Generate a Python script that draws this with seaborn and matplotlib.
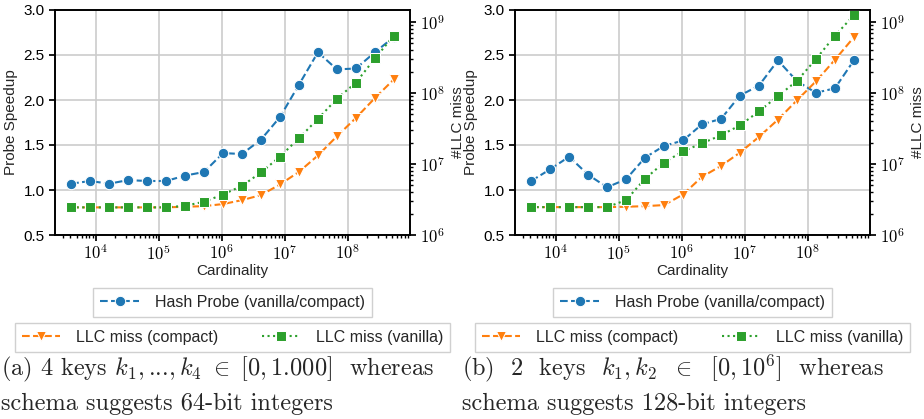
import matplotlib
matplotlib.use("Agg")
import matplotlib.pyplot as plt
import seaborn as sns
import pandas as pd
from matplotlib.ticker import FuncFormatter, LogLocator, NullFormatter

# ---------------- data ----------------
cardinality = [4096, 8192, 16384, 32768, 65536, 131072, 262144, 524288,
               1048576, 2097152, 4194304, 8388608, 16777216, 33554432,
               67108864, 134217728, 268435456, 536870912]

speedup_a = [1.07, 1.10, 1.07, 1.11, 1.10, 1.10, 1.16, 1.20, 1.41, 1.40,
             1.56, 1.81, 2.17, 2.53, 2.34, 2.35, 2.53, 2.70]
llc_compact_a = [2.45e6, 2.45e6, 2.45e6, 2.45e6, 2.45e6, 2.45e6, 2.5e6, 2.55e6,
                 2.73e6, 3.1e6, 3.65e6, 5.15e6, 7.76e6, 1.32e7, 2.46e7, 4.46e7,
                 8.5e7, 1.56e8]
llc_vanilla_a = [2.45e6, 2.45e6, 2.45e6, 2.45e6, 2.45e6, 2.45e6, 2.58e6, 2.94e6,
                 3.72e6, 4.93e6, 7.6e6, 1.27e7, 2.31e7, 4.32e7, 8.33e7, 1.40e8,
                 3.07e8, 6.46e8]

speedup_b = [1.10, 1.23, 1.37, 1.17, 1.03, 1.12, 1.36, 1.49, 1.55, 1.73,
             1.79, 2.05, 2.16, 2.44, 2.21, 2.08, 2.13, 2.44]
llc_compact_b = [2.47e6, 2.47e6, 2.47e6, 2.47e6, 2.47e6, 2.5e6, 2.55e6, 2.64e6,
                 3.72e6, 6.6e6, 9.4e6, 1.45e7, 2.41e7, 4.22e7, 7.9e7, 1.46e8,
                 2.94e8, 6.12e8]
llc_vanilla_b = [2.47e6, 2.47e6, 2.47e6, 2.47e6, 2.47e6, 3.1e6, 6.2e6, 1.05e7,
                 1.51e7, 1.96e7, 2.54e7, 3.51e7, 5.52e7, 9.07e7, 1.48e8, 3.0e8,
                 6.4e8, 1.25e9]

label_speedup = "Hash Probe (vanilla/compact)"
label_compact = "LLC miss (compact)"
label_vanilla = "LLC miss (vanilla)"

caption_a = [r"(a) 4 keys $k_1,$...$,k_4\ \in\ [0, 1.000]$  whereas",
             "schema suggests 64-bit integers"]
caption_b = [r"(b)  2  keys  $k_1, k_2\ \ \in\ \ [0, 10^6]$  whereas",
             "schema suggests 128-bit integers"]

# ---------------- style ----------------
sns.set_theme(style="whitegrid")
plt.rcParams.update({
    "font.family": ["Liberation Sans", "DejaVu Sans"],
    "mathtext.fontset": "cm",
    "axes.edgecolor": "black",
    "axes.linewidth": 1.2,
    "grid.color": "#cccccc",
    "grid.linewidth": 1.2,
    "xtick.bottom": True,
    "ytick.left": True,
    "xtick.color": "black",
    "ytick.color": "black",
    "xtick.major.size": 4,
    "ytick.major.size": 4,
    "xtick.minor.size": 2,
    "ytick.minor.size": 2,
})

BLUE, ORANGE, GREEN = "#1f77b4", "#ff7f0e", "#2ca02c"

fig = plt.figure(figsize=(9.24, 4.19), dpi=100)
W, H = 924.0, 419.0


def pow_fmt(v, pos):
    import math
    e = int(round(math.log10(v)))
    return r"$10^{%d}$" % e


def panel(left_px, speed, comp, vani, caption, cap_x):
    ax = fig.add_axes([left_px / W, 1 - 235 / H, 355 / W, 225 / H])
    df = pd.DataFrame({"card": cardinality, "speed": speed, "comp": comp, "vani": vani})
    sns.lineplot(data=df, x="card", y="speed", ax=ax, color=BLUE, marker="o",
                 linestyle="--", markersize=7.5, linewidth=1.5, label=label_speedup,
                 legend=False)
    ax.set_xscale("log")
    ax.set_ylim(0.5, 3.0)
    ax.set_yticks([0.5, 1.0, 1.5, 2.0, 2.5, 3.0])
    ax.set_yticklabels(["0.5", "1.0", "1.5", "2.0", "2.5", "3.0"], fontsize=11)
    ax.xaxis.set_major_locator(LogLocator(base=10))
    ax.xaxis.set_major_formatter(FuncFormatter(pow_fmt))
    ax.xaxis.set_minor_locator(LogLocator(base=10, subs=range(2, 10)))
    ax.xaxis.set_minor_formatter(NullFormatter())
    ax.tick_params(axis="x", which="major", labelsize=12, pad=2)
    ax.set_xlabel("Cardinality", fontsize=11, labelpad=1)
    ax.set_ylabel("Probe Speedup", fontsize=11)
    ax.grid(True, which="major")

    ax2 = ax.twinx()
    sns.lineplot(data=df, x="card", y="comp", ax=ax2, color=ORANGE, marker="v",
                 linestyle="--", markersize=7.5, linewidth=1.5, label=label_compact,
                 legend=False)
    sns.lineplot(data=df, x="card", y="vani", ax=ax2, color=GREEN, marker="s",
                 linestyle=":", markersize=7, linewidth=1.5, label=label_vanilla,
                 legend=False)
    ax2.set_yscale("log")
    ax2.set_ylim(1e6, 1.48e9)
    ax2.grid(False)
    ax2.yaxis.set_major_locator(LogLocator(base=10))
    ax2.yaxis.set_major_formatter(FuncFormatter(pow_fmt))
    ax2.yaxis.set_minor_locator(LogLocator(base=10, subs=range(2, 10)))
    ax2.yaxis.set_minor_formatter(NullFormatter())
    ax2.tick_params(axis="y", which="major", labelsize=12, right=True)
    ax2.tick_params(axis="y", which="minor", right=True)
    ax2.set_ylabel("#LLC miss", fontsize=11)
    ax2.set_xlabel("")
    for sp in ax2.spines.values():
        sp.set_color("black")

    h1 = ax.get_lines()[0]
    h2, h3 = ax2.get_lines()[0], ax2.get_lines()[1]
    leg1 = ax2.legend([h1], [label_speedup], loc="upper center",
                      bbox_to_anchor=(0.5, -0.235), fontsize=11.5, frameon=True,
                      fancybox=False, edgecolor="#d0d0d0", framealpha=1,
                      handlelength=2.4, handletextpad=1.0, borderpad=0.45,
                      borderaxespad=0)
    ax2.add_artist(leg1)
    ax2.legend([h2, h3], [label_compact, label_vanilla], loc="upper center",
               bbox_to_anchor=(0.5, -0.39), ncol=2, fontsize=11.5, frameon=True,
               fancybox=False, edgecolor="#d0d0d0", framealpha=1,
               handlelength=2.4, handletextpad=1.0, columnspacing=2.7,
               borderpad=0.45, borderaxespad=0)

    fig.text(cap_x / W, 1 - 375 / H, caption[0], family="cmr10", fontsize=17.5,
             va="baseline", ha="left")
    fig.text(cap_x / W, 1 - 410 / H, caption[1], family="cmr10", fontsize=17.5,
             va="baseline", ha="left")


panel(55, speedup_a, llc_compact_a, llc_vanilla_a, caption_a, 1)
panel(515, speedup_b, llc_compact_b, llc_vanilla_b, caption_b, 462)

fig.savefig("out.png", dpi=100)
